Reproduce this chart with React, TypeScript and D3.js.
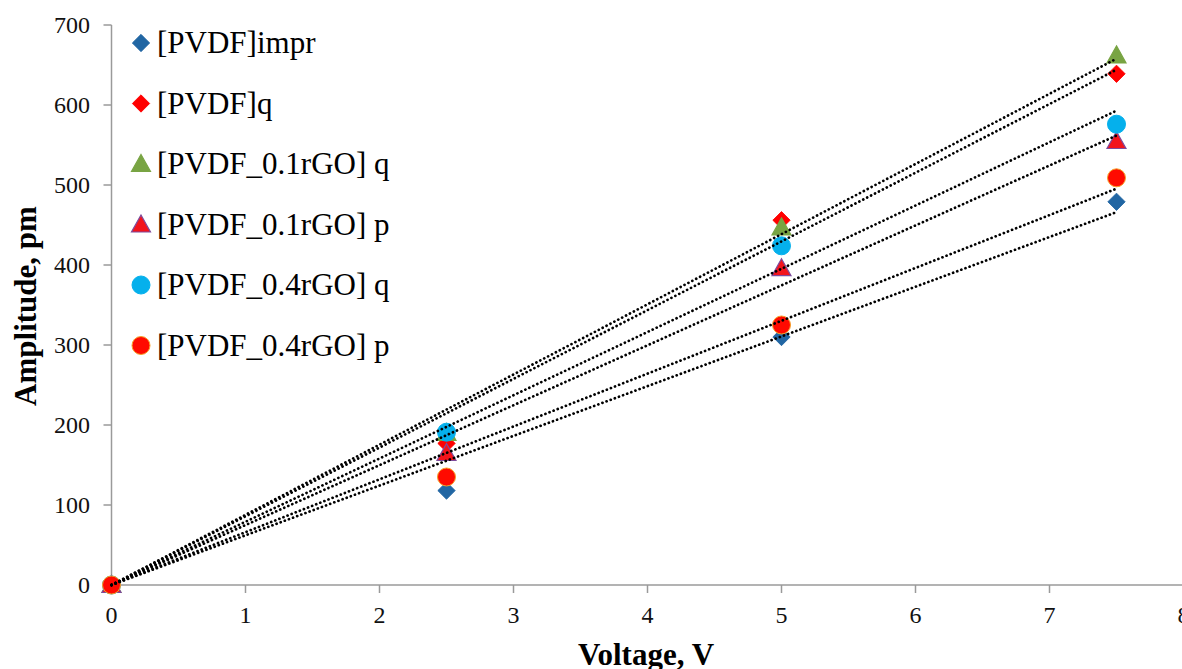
import React from "react";
import * as d3 from "d3";

const voltages = [0, 2.5, 5, 7.5];
const seriesNames = [
  "[PVDF]impr",
  "[PVDF]q",
  "[PVDF_0.1rGO] q",
  "[PVDF_0.1rGO] p",
  "[PVDF_0.4rGO] q",
  "[PVDF_0.4rGO] p",
];
const pvdfImpr = [0, 118, 310, 479];
const pvdfQ = [0, 177, 456, 639];
const rgo01Q = [0, 190, 447, 662];
const rgo01P = [0, 165, 396, 555];
const rgo04Q = [0, 191, 424, 576];
const rgo04P = [0, 135, 325, 509];
const xTicks = [0, 1, 2, 3, 4, 5, 6, 7, 8];
const yTicks = [0, 100, 200, 300, 400, 500, 600, 700];

const seriesValues = [pvdfImpr, pvdfQ, rgo01Q, rgo01P, rgo04Q, rgo04P];
const markerTypes = ["diamond", "diamond", "triangle", "triangle", "circle", "circle"];
const fills = ["#2166A3", "#FF0000", "#78A443", "#F2141C", "#05B0EC", "#FF0A00"];
const strokes = ["#2166A3", "#FF0000", "#78A443", "#7E4B9C", "#05B0EC", "#F7A028"];

const W = 1182;
const H = 669;
const x = d3.scaleLinear().domain([0, 8]).range([111.5, 1183.5]);
const y = d3.scaleLinear().domain([0, 700]).range([585, 25]);

function marker(type: string, cx: number, cy: number, fill: string, stroke: string, key: string) {
  if (type === "diamond") {
    const s = d3.symbol(d3.symbolSquare, 150)();
    return (
      <path key={key} d={s as string} transform={`translate(${cx},${cy}) rotate(45)`} fill={fill} stroke={stroke} strokeWidth={0.8} />
    );
  }
  if (type === "triangle") {
    const h = 17, w = 19;
    const d = `M${cx},${cy - h / 2 - 1}L${cx + w / 2},${cy + h / 2 - 1}L${cx - w / 2},${cy + h / 2 - 1}Z`;
    return <path key={key} d={d} fill={fill} stroke={stroke} strokeWidth={1.2} />;
  }
  return <circle key={key} cx={cx} cy={cy} r={9} fill={fill} stroke={stroke} strokeWidth={1} />;
}

function fitSlope(vals: number[]) {
  const sxy = d3.sum(voltages, (v, i) => v * vals[i]);
  const sxx = d3.sum(voltages, (v) => v * v);
  return sxy / sxx;
}

export default function App() {
  const font = "'Liberation Serif', 'Times New Roman', serif";
  const axisColor = "#9A9A9A";
  const legendY0 = 43;
  const legendStep = 60.5;
  return (
    <svg width={W} height={H} style={{ position: "absolute", left: 0, top: 0, background: "#fff" }} fontFamily={font}>
      <rect x={0} y={0} width={W} height={H} fill="#fff" />
      {/* axes */}
      <line x1={x(0)} x2={x(0)} y1={y(700)} y2={y(0)} stroke={axisColor} strokeWidth={1.5} />
      <line x1={x(0)} x2={W} y1={y(0)} y2={y(0)} stroke={axisColor} strokeWidth={1.5} />
      {yTicks.map((t) => (
        <g key={"yt" + t}>
          <line x1={x(0) - 8} x2={x(0)} y1={y(t)} y2={y(t)} stroke={axisColor} strokeWidth={1.5} />
          <text x={90} y={y(t) + 8} textAnchor="end" fontSize={24} fill="#111">
            {t}
          </text>
        </g>
      ))}
      {xTicks.map((t) => (
        <g key={"xt" + t}>
          <line x1={x(t)} x2={x(t)} y1={y(0)} y2={y(0) + 8} stroke={axisColor} strokeWidth={1.5} />
          <text x={x(t)} y={623} textAnchor="middle" fontSize={24} fill="#111">
            {t}
          </text>
        </g>
      ))}
      <text x={646} y={665} textAnchor="middle" fontSize={31} fontWeight="bold" fill="#000">
        Voltage, V
      </text>
      <text transform="translate(36,306) rotate(-90)" textAnchor="middle" fontSize={31} fontWeight="bold" fill="#000">
        Amplitude, pm
      </text>
      {/* markers */}
      {seriesValues.map((vals, si) =>
        vals.map((v, i) => marker(markerTypes[si], x(voltages[i]), y(v), fills[si], strokes[si], `m${si}-${i}`))
      )}
      {/* trendlines */}
      {seriesValues.map((vals, si) => {
        const k = fitSlope(vals);
        const xmax = d3.max(voltages) as number;
        const line = d3.line<number>().x((v) => x(v)).y((v) => y(k * v));
        return (
          <path
            key={"tl" + si}
            d={line([0, xmax]) as string}
            fill="none"
            stroke="#000"
            strokeWidth={2.7}
            strokeDasharray="0.1 4.3"
            strokeLinecap="round"
          />
        );
      })}
      {/* legend */}
      {seriesNames.map((name, si) => {
        const cy = legendY0 + si * legendStep;
        return (
          <g key={"lg" + si}>
            {marker(markerTypes[si], 141, cy, fills[si], strokes[si], "lm" + si)}
            <text x={157} y={cy + 10} fontSize={31} fill="#000">
              {name}
            </text>
          </g>
        );
      })}
    </svg>
  );
}
